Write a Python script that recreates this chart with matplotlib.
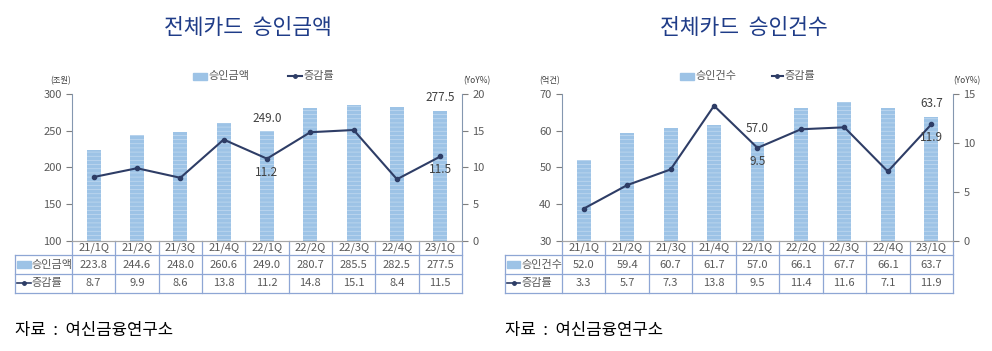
import matplotlib
matplotlib.use("Agg")
import matplotlib.pyplot as plt
import matplotlib.transforms as mtransforms
from matplotlib.patches import Rectangle
from matplotlib.lines import Line2D

plt.rcParams['font.family'] = ['Noto Sans CJK KR', 'DejaVu Sans']
plt.rcParams['hatch.linewidth'] = 0.5

categories = ["21/1Q", "21/2Q", "21/3Q", "21/4Q", "22/1Q", "22/2Q", "22/3Q", "22/4Q", "23/1Q"]

amount = [223.8, 244.6, 248.0, 260.6, 249.0, 280.7, 285.5, 282.5, 277.5]
amount_yoy = [8.7, 9.9, 8.6, 13.8, 11.2, 14.8, 15.1, 8.4, 11.5]

count = [52.0, 59.4, 60.7, 61.7, 57.0, 66.1, 67.7, 66.1, 63.7]
count_yoy = [3.3, 5.7, 7.3, 13.8, 9.5, 11.4, 11.6, 7.1, 11.9]

left_title = "전체카드  승인금액"
right_title = "전체카드  승인건수"
source = "자료  :  여신금융연구소"

BAR = '#9DC3E6'
STRIPE = '#C4DBF1'
LINE = '#2E3D66'
GRAY = '#595959'
TITLE = '#1F3C88'
GRID = '#8EA6D4'
SPINE = '#8497B0'

fig = plt.figure(figsize=(9.92, 3.51), dpi=100)


def panel(rect, bars, yoy, bar_name, unit, ylim, yticks, y2lim, y2ticks,
          labeled, leg_pos, title, title_x, unit_x):
    ax = fig.add_axes(rect)
    x = list(range(len(categories)))
    ax.bar(x, bars, width=0.32, color=BAR, edgecolor=STRIPE, linewidth=0,
           hatch='----', zorder=2)
    ax.set_xlim(-0.5, len(categories) - 0.5)
    ax.set_ylim(*ylim)
    ax.set_yticks(yticks)
    ax.set_xticks([])
    ax2 = ax.twinx()
    ax2.plot(x, yoy, color=LINE, lw=1.5, marker='o', ms=3, zorder=3)
    ax2.set_ylim(*y2lim)
    ax2.set_yticks(y2ticks)
    for a in (ax, ax2):
        a.spines['top'].set_visible(False)
        a.spines['left'].set_color(SPINE)
        a.spines['right'].set_color(SPINE)
        a.spines['bottom'].set_color('#A6A6A6')
        a.tick_params(axis='y', colors=GRAY, labelsize=8, length=4, width=0.8,
                      labelcolor=GRAY)
    ax.spines['right'].set_visible(False)
    ax2.spines['left'].set_visible(False)
    ax.tick_params(axis='y', color='#7F7F7F')
    ax2.tick_params(axis='y', color='#7F7F7F')

    # data labels
    for i in labeled:
        ax.annotate(f"{bars[i]:.1f}", (x[i], bars[i]), xytext=(0, 5),
                    textcoords='offset points', ha='center', va='bottom',
                    fontsize=8.5, color='#404040')
        ax2.annotate(f"{yoy[i]:.1f}", (x[i], yoy[i]), xytext=(0, -5),
                     textcoords='offset points', ha='center', va='top',
                     fontsize=8.5, color='#404040')

    # units
    ax.text(unit_x[0], 1.088, unit, transform=ax.transAxes, ha='center',
            va='center', fontsize=6, color='#404040')
    ax.text(unit_x[1], 1.088, "(YoY%)", transform=ax.transAxes, ha='center',
            va='center', fontsize=6, color='#404040')

    # legend
    p0, p1, l0, l1 = leg_pos
    ly = 1.12
    ax.add_patch(Rectangle((p0, ly - 0.025), p1 - p0, 0.05, transform=ax.transAxes,
                           color=BAR, clip_on=False))
    ax.text(p1 + 0.004, ly, bar_name, transform=ax.transAxes, ha='left',
            va='center', fontsize=8, color=GRAY)
    ax.add_line(Line2D([l0, l1], [ly, ly], transform=ax.transAxes, color=LINE,
                       lw=1.5, clip_on=False))
    ax.add_line(Line2D([(l0 + l1) / 2], [ly], transform=ax.transAxes, color=LINE,
                       marker='o', ms=2.5, clip_on=False))
    ax.text(l1 + 0.004, ly, "증감률", transform=ax.transAxes, ha='left',
            va='center', fontsize=8, color=GRAY)

    # table
    tr = mtransforms.blended_transform_factory(ax.transData, ax.transAxes)
    n = len(categories)
    hx = -0.5 - 1.315
    r0, r1, r2, r3 = 0.0, -0.097, -0.226, -0.352
    kw = dict(transform=tr, clip_on=False, color=GRID, lw=0.9)
    for k in range(n + 1):
        ax.add_line(Line2D([k - 0.5, k - 0.5], [r0, r3], **kw))
    ax.add_line(Line2D([hx, hx], [r1, r3], **kw))
    for r in (r1, r2, r3):
        ax.add_line(Line2D([hx, n - 0.5], [r, r], **kw))
    for i, c in enumerate(categories):
        ax.text(i, (r0 + r1) / 2, c, transform=tr, ha='center', va='center',
                fontsize=8, color=GRAY)
        ax.text(i, (r1 + r2) / 2, f"{bars[i]:.1f}", transform=tr, ha='center',
                va='center', fontsize=8, color=GRAY)
        ax.text(i, (r2 + r3) / 2, f"{yoy[i]:.1f}", transform=tr, ha='center',
                va='center', fontsize=8, color=GRAY)
    sx0, sx1 = hx + 0.04, hx + 0.36
    ym = (r1 + r2) / 2
    ax.add_patch(Rectangle((sx0, ym - 0.025), sx1 - sx0, 0.05, transform=tr,
                           color=BAR, clip_on=False))
    ax.text(sx1 + 0.02, ym, bar_name, transform=tr, ha='left', va='center',
            fontsize=8, color=GRAY)
    ym = (r2 + r3) / 2
    ax.add_line(Line2D([sx0, sx1], [ym, ym], transform=tr, color=LINE, lw=1.2,
                       clip_on=False))
    ax.add_line(Line2D([(sx0 + sx1) / 2], [ym], transform=tr, color=LINE,
                       marker='o', ms=2.5, clip_on=False))
    ax.text(sx1 + 0.02, ym, "증감률", transform=tr, ha='left', va='center',
            fontsize=8, color=GRAY)

    fig.text(title_x, 0.92, title, ha='center', va='center', fontsize=15.5,
             color=TITLE)
    return ax


panel([0.0726, 0.3134, 0.3931, 0.4188], amount, amount_yoy, "승인금액", "(조원)",
      (100, 300), [100, 150, 200, 250, 300], (0, 20), [0, 5, 10, 15, 20],
      [4, 8], (0.31, 0.346, 0.554, 0.59), left_title, 248 / 992, (-0.03, 1.038))

panel([0.5665, 0.3134, 0.3942, 0.4188], count, count_yoy, "승인건수", "(억건)",
      (30, 70), [30, 40, 50, 60, 70], (0, 15), [0, 5, 10, 15],
      [4, 8], (0.302, 0.338, 0.537, 0.565), right_title, 744 / 992, (-0.031, 1.036))

fig.text(15 / 992, 1 - 330 / 351, source, ha='left', va='center', fontsize=12,
         color='black')
fig.text(505 / 992, 1 - 330 / 351, source, ha='left', va='center', fontsize=12,
         color='black')

fig.savefig("out.png", dpi=100)
